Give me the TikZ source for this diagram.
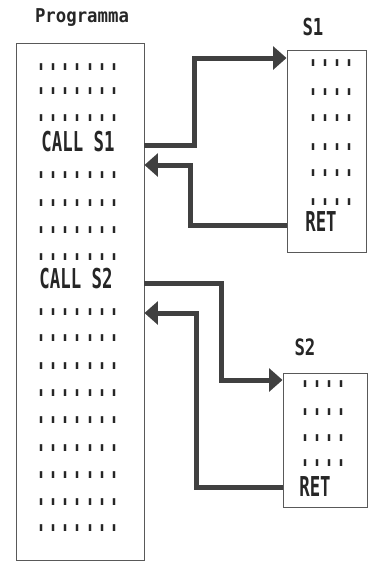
\documentclass[tikz,border=0pt]{standalone}
\usepackage{fontspec}
\usetikzlibrary{arrows.meta}
\newfontfamily\pixfont{DejaVu Sans Mono}
\newcommand\bigtxt[2][1.58]{\scalebox{1}[#1]{\fontsize{13}{13}\selectfont\pixfont\bfseries #2}}
\newcommand\tickrow[1]{\scalebox{1}[2.3]{\fontsize{15}{15}\selectfont\pixfont #1}}
\tikzset{
  box/.style={draw=black!65, line width=0.7pt, inner sep=0pt, rectangle},
  flow/.style={draw=black!75, line width=3.75pt, -{Triangle[length=10pt,width=17pt]}},
  lbl/.style={inner sep=0pt, text=black!85},
}
\begin{document}
\begin{tikzpicture}[x=0.75pt,y=-0.75pt]
\useasboundingbox (0,0) rectangle (368,562);
% boxes
\node[box, minimum width=96pt, minimum height=387.75pt] (main) at (80,301.5) {};
\node[box, minimum width=59.25pt, minimum height=151.5pt] (s1) at (326.5,151) {};
\node[box, minimum width=63pt, minimum height=100.5pt] (s2) at (325,440) {};
% labels
\node[lbl, anchor=base] (title) at (82,22.7) {\bigtxt[1.1]{Programma}};
\node[lbl] (s1lbl) at (313,27) {\bigtxt[1.35]{S1}};
\node[lbl] (s2lbl) at (305,347) {\bigtxt[1.3]{S2}};
% main program rows
\foreach \y [count=\i] in {67,91,118,175,203,230,257,312,338,366,393,420,448,475,502,528}
  \node[lbl] (m\i) at (78,\y) {\tickrow{.......}};
\node[lbl] (call1) at (78,142) {\bigtxt{CALL S1}};
\node[lbl] (call2) at (76,279) {\bigtxt{CALL S2}};
% S1 rows
\foreach \y [count=\i] in {63,92,118,147,173,202}
  \node[lbl] (a\i) at (331.5,\y) {\tickrow{....}};
\node[lbl] (ret1) at (321,222) {\bigtxt{RET}};
% S2 rows
\foreach \y [count=\i] in {384,412,438,463}
  \node[lbl] (b\i) at (323.5,\y) {\tickrow{....}};
\node[lbl] (ret2) at (315,487) {\bigtxt{RET}};
% connectors
\draw[flow] (main.east |- 0,145) -| (194,58) -- (s1.west |- 0,58);
\draw[flow] (s1.west |- 0,225) -| (190,165) -- (main.east |- 0,165);
\draw[flow] (main.east |- 0,283) -| (221,380) -- (s2.west |- 0,380);
\draw[flow] (s2.west |- 0,487) -| (196,313) -- (main.east |- 0,313);
\end{tikzpicture}
\end{document}
